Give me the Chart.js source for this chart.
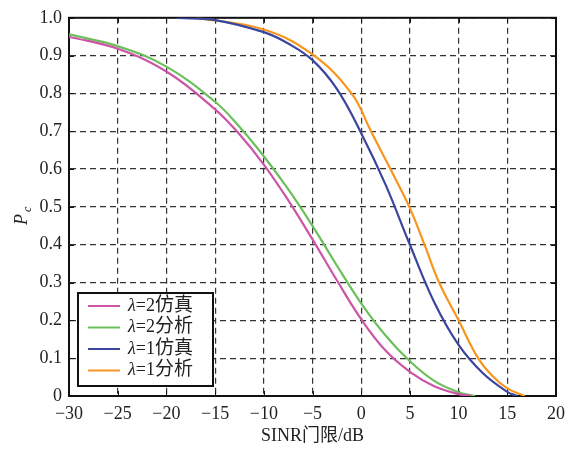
<!DOCTYPE html>
<html lang="zh">
<head>
<meta charset="UTF-8">
<title>Pc vs SINR</title>
<script src="https://cdn.jsdelivr.net/npm/chart.js"></script>
<style>
  body { margin: 0; background: #fff; }
</style>
</head>
<body>
<canvas id="chart" width="576" height="449"></canvas>
<script>
// 数据
const seriesLabels = ['λ=2仿真', 'λ=2分析', 'λ=1仿真', 'λ=1分析'];
const seriesColors = ['#cc55a6', '#6cc05c', '#3a469e', '#f7961f'];

const sim2X = [-30, -25, -20, -15, -12.5, -10, -7.5, -5, -2.5, 0, 2.5, 5, 7.5, 10, 11.3];
const sim2Y = [0.950, 0.918, 0.858, 0.758, 0.692, 0.612, 0.518, 0.414, 0.306, 0.203, 0.120, 0.064, 0.026, 0.005, 0];

const ana2X = [-30, -25, -20, -15, -12.5, -10, -7.5, -5, -2.5, 0, 2.5, 5, 7.5, 10, 11.7];
const ana2Y = [0.956, 0.925, 0.871, 0.778, 0.712, 0.634, 0.547, 0.450, 0.345, 0.245, 0.160, 0.092, 0.040, 0.010, 0];

const sim1X = [-18.9, -15, -10, -7.5, -5, -2.5, 0, 2.5, 5, 7.5, 10, 12.5, 15, 16];
const sim1Y = [1.0, 0.994, 0.962, 0.932, 0.888, 0.812, 0.695, 0.559, 0.400, 0.248, 0.135, 0.060, 0.011, 0];

const ana1X = [-16.9, -10, -5, -1, 1, 3, 4.94, 6.5, 8, 10, 12, 13.5, 15, 16.8];
const ana1Y = [1.0, 0.969, 0.903, 0.80, 0.70, 0.60, 0.50, 0.40, 0.30, 0.20, 0.10, 0.052, 0.02, 0];

const xTicks = [-30, -25, -20, -15, -10, -5, 0, 5, 10, 15, 20];
const xTickLabels = ['\u221230', '\u221225', '\u221220', '\u221215', '\u221210', '\u22125', '0', '5', '10', '15', '20'];
const yTicks = [0, 0.1, 0.2, 0.3, 0.4, 0.5, 0.6, 0.7, 0.8, 0.9, 1.0];
const yTickLabels = ['0', '0.1', '0.2', '0.3', '0.4', '0.5', '0.6', '0.7', '0.8', '0.9', '1.0'];

const serif = "'Liberation Serif', 'Noto Sans CJK SC', serif";

const toPoints = (xs, ys) => xs.map((x, i) => ({x: x, y: ys[i]}));
const allX = [sim2X, ana2X, sim1X, ana1X];
const allY = [sim2Y, ana2Y, sim1Y, ana1Y];

// 外框、向内刻度、图例、纵轴标题
const framePlugin = {
  id: 'frame',
  beforeDatasetsDraw(chart) {
    const {ctx, chartArea: a, scales: {x, y}} = chart;
    ctx.save();
    ctx.strokeStyle = '#111';
    ctx.lineWidth = 1;
    ctx.beginPath();
    xTicks.forEach(v => {
      const px = Math.round(x.getPixelForValue(v)) + 0.5;
      ctx.moveTo(px, a.bottom); ctx.lineTo(px, a.bottom - 5);
      ctx.moveTo(px, a.top); ctx.lineTo(px, a.top + 5);
    });
    yTicks.forEach(v => {
      const py = Math.round(y.getPixelForValue(v)) + 0.5;
      ctx.moveTo(a.left, py); ctx.lineTo(a.left + 5, py);
      ctx.moveTo(a.right, py); ctx.lineTo(a.right - 5, py);
    });
    ctx.stroke();
    ctx.lineWidth = 2;
    ctx.strokeRect(a.left, a.top, a.right - a.left, a.bottom - a.top);
    ctx.restore();
  },
  afterDraw(chart) {
    const {ctx, chartArea: a} = chart;
    ctx.save();
    // 图例
    const bx = a.left + 9, by = a.bottom - 103, bw = 135, bh = 93;
    ctx.fillStyle = '#fff';
    ctx.fillRect(bx, by, bw, bh);
    ctx.strokeStyle = '#111';
    ctx.lineWidth = 2;
    ctx.strokeRect(bx, by, bw, bh);
    chart.data.datasets.forEach((ds, i) => {
      const ly = by + 13 + i * 21.5;
      ctx.strokeStyle = ds.borderColor;
      ctx.lineWidth = 2;
      ctx.beginPath();
      ctx.moveTo(bx + 10, ly); ctx.lineTo(bx + 42, ly);
      ctx.stroke();
      ctx.fillStyle = '#222';
      ctx.textBaseline = 'middle';
      ctx.textAlign = 'left';
      let tx = bx + 50;
      const label = ds.label;
      ctx.font = 'italic 18px ' + serif;
      ctx.fillText(label[0], tx, ly);
      tx += ctx.measureText(label[0]).width;
      ctx.font = '18px ' + serif;
      ctx.fillText(label.slice(1, 3), tx, ly);
      tx += ctx.measureText(label.slice(1, 3)).width;
      ctx.font = '19px ' + serif;
      ctx.fillText(label.slice(3), tx, ly);
    });
    // 纵轴标题 Pc
    ctx.translate(27, 218);
    ctx.rotate(-Math.PI / 2);
    ctx.fillStyle = '#222';
    ctx.textBaseline = 'alphabetic';
    ctx.textAlign = 'left';
    ctx.font = 'italic 18px ' + serif;
    ctx.fillText('P', -7, 0);
    ctx.font = 'italic 12px ' + serif;
    ctx.fillText('c', 6, 4);
    ctx.restore();
  }
};

const ctx = document.getElementById('chart').getContext('2d');
new Chart(ctx, {
  type: 'line',
  data: {
    datasets: seriesLabels.map((label, i) => ({
      label: label,
      data: toPoints(allX[i], allY[i]),
      borderColor: seriesColors[i],
      backgroundColor: seriesColors[i],
      borderWidth: 2.2,
      pointRadius: 0,
      fill: false,
      tension: 0.4
    }))
  },
  options: {
    responsive: false,
    animation: false,
    layout: { padding: { left: 0, right: 20, top: 12, bottom: 0 } },
    plugins: {
      legend: { display: false },
      tooltip: { enabled: false }
    },
    scales: {
      x: {
        type: 'linear',
        min: -30,
        max: 20,
        afterBuildTicks: scale => { scale.ticks = xTicks.map(v => ({value: v})); },
        afterFit: scale => { scale.height = 53; },
        ticks: {
          padding: 7,
          color: '#222',
          font: { family: serif, size: 18 },
          callback: (v, i) => xTickLabels[i]
        },
        grid: { color: '#333', lineWidth: 1.2, drawTicks: false },
        border: { display: true, color: '#111', width: 2, dash: [6, 4] },
        title: {
          display: true,
          text: 'SINR门限/dB',
          color: '#222',
          font: { family: serif, size: 18 },
          padding: { top: 0, bottom: 2 }
        }
      },
      y: {
        min: 0,
        max: 1,
        afterBuildTicks: scale => { scale.ticks = yTicks.map(v => ({value: v})); },
        afterFit: scale => { scale.width = 69; },
        ticks: {
          padding: 7,
          color: '#222',
          font: { family: serif, size: 18 },
          callback: (v, i) => yTickLabels[i]
        },
        grid: { color: '#333', lineWidth: 1.2, drawTicks: false },
        border: { display: true, color: '#111', width: 2, dash: [6, 4] }
      }
    }
  },
  plugins: [framePlugin]
});
</script>
</body>
</html>
